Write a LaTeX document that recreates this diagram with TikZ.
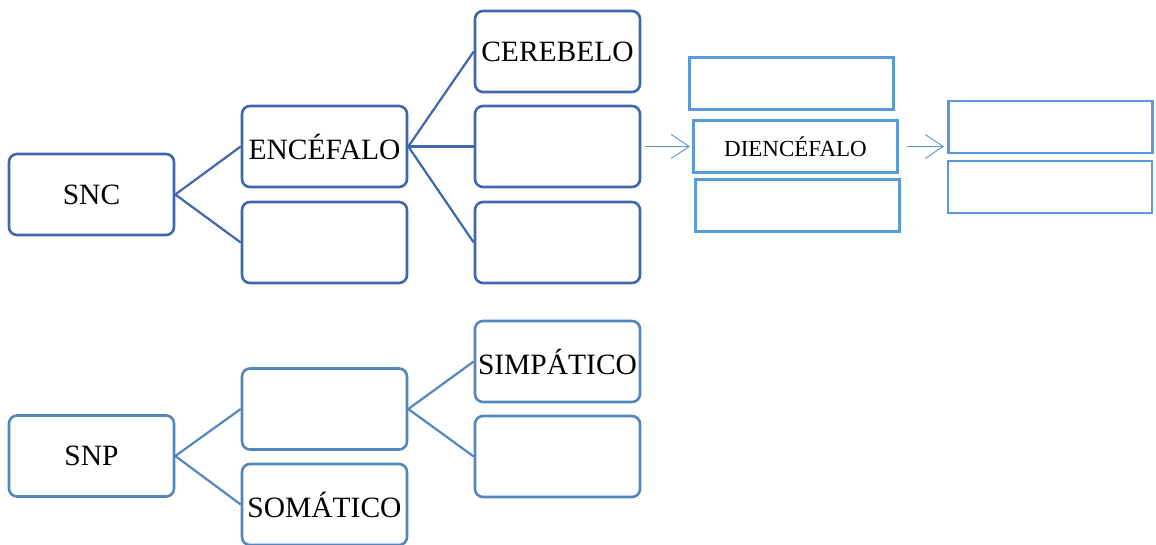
\documentclass[tikz,border=0pt]{standalone}
\usepackage{fontspec}
\setmainfont{Liberation Serif}
\usetikzlibrary{arrows.meta}
\definecolor{cnsblue}{RGB}{64,102,172}
\definecolor{pnsblue}{RGB}{84,134,190}
\definecolor{lightblue}{RGB}{91,155,213}
\tikzset{
  rbox/.style={draw=#1, line width=2.6pt, rounded corners=8pt, inner sep=0pt,
    minimum width=165pt, minimum height=81pt, align=center,
    font=\fontsize{29.5}{32}\selectfont},
  sbox/.style={draw=lightblue, line width=2.8pt, inner sep=0pt,
    minimum width=204pt, minimum height=52pt, align=center},
  link/.style={draw=#1, line width=2.2pt},
  flow/.style={draw=lightblue, line width=1pt, -{Straight Barb[length=18pt,width=24pt,line width=1pt]}}
}
\begin{document}
\begin{tikzpicture}[x=1pt,y=-1pt]
\useasboundingbox (0,0) rectangle (1156,545);
% central nervous system tree
\node[rbox=cnsblue] (snc) at (91.5,194.5) {SNC};
\node[rbox=cnsblue] (enc) at (324.5,146.5) {ENCÉFALO};
\node[rbox=cnsblue] (enc2) at (324.5,242.5) {};
\node[rbox=cnsblue] (cer) at (557.5,51.5) {CEREBELO};
\node[rbox=cnsblue] (mid) at (557.5,146.5) {};
\node[rbox=cnsblue] (low) at (557.5,242.5) {};
\draw[link=cnsblue] (snc.east) -- (enc.west);
\draw[link=cnsblue] (snc.east) -- (enc2.west);
\draw[link=cnsblue] (enc.east) -- (cer.west);
\draw[link=cnsblue] (enc.east) -- (mid.west);
\draw[link=cnsblue] (enc.east) -- (low.west);
% diencephalon column
\node[sbox] (dtop) at (791.5,83.5) {};
\node[sbox, font=\fontsize{23}{26}\selectfont] (dien) at (795.5,146.5) {DIENCÉFALO};
\node[sbox] (dbot) at (797.5,205.5) {};
\node[sbox] (r1) at (1050.5,127) {};
\node[sbox] (r2) at (1050,187) {};
\coordinate (a2) at (dien.east -| r1.west);
\draw[flow] ([xshift=4pt]mid.east) -- ([xshift=-2pt]dien.west);
\draw[flow] ([xshift=8pt]dien.east) -- ([xshift=-3pt]a2);
% peripheral nervous system tree
\node[rbox=pnsblue] (snp) at (91.5,456) {SNP};
\node[rbox=pnsblue] (pm) at (324.5,409) {};
\node[rbox=pnsblue] (som) at (324.5,504.5) {SOMÁTICO};
\node[rbox=pnsblue] (sim) at (557.5,361.5) {SIMPÁTICO};
\node[rbox=pnsblue] (pl) at (557.5,456.5) {};
\draw[link=pnsblue] (snp.east) -- (pm.west);
\draw[link=pnsblue] (snp.east) -- (som.west);
\draw[link=pnsblue] (pm.east) -- (sim.west);
\draw[link=pnsblue] (pm.east) -- (pl.west);
\end{tikzpicture}
\end{document}
